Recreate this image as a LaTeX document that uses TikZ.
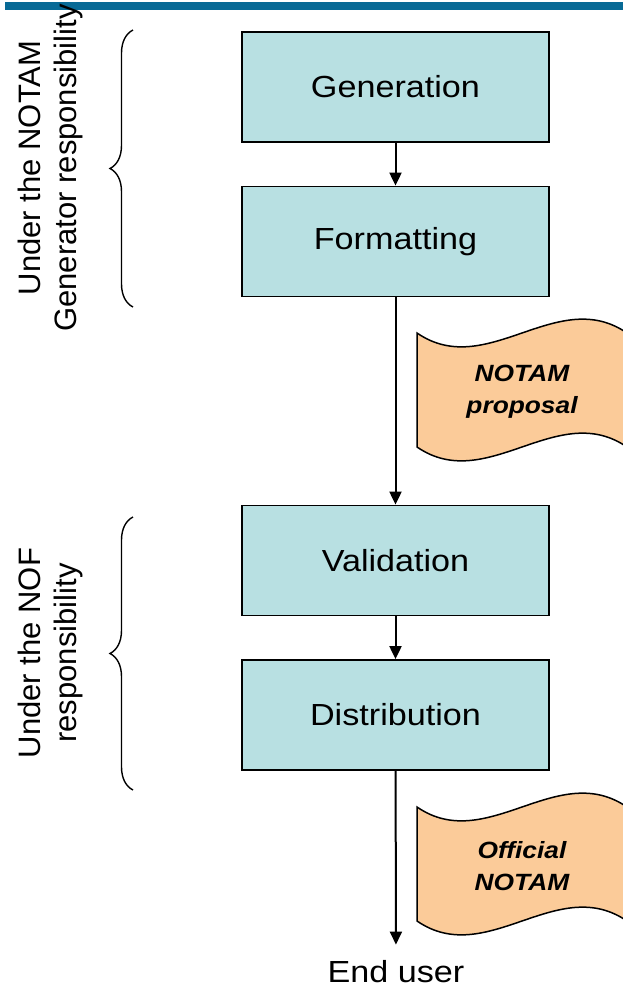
\documentclass[tikz,border=0pt]{standalone}
\usepackage{fontspec}
\setmainfont[FakeStretch=1.12]{Liberation Sans}
\newfontfamily\sidefont{Liberation Sans}
\usetikzlibrary{positioning}
\usetikzlibrary{arrows.meta}
\usetikzlibrary{decorations.pathreplacing}
\definecolor{boxcyan}{RGB}{184,224,226}
\definecolor{docpeach}{RGB}{251,203,153}
\definecolor{barblue}{RGB}{8,106,150}

\begin{document}
\begin{tikzpicture}[x=1pt,y=-1pt,
  stepbox/.style={draw,line width=1.8pt,fill=boxcyan,minimum width=307pt,
    minimum height=110pt,inner sep=0pt,font=\fontsize{30.5}{36}\selectfont},
  flow/.style={line width=2pt,-{Triangle[width=12pt,length=13pt]}},
  wavedoc/.style={draw,line width=1.5pt,fill=docpeach},
  doctext/.style={align=center,font=\fontsize{23.5}{32}\selectfont\bfseries\itshape},
  sidetext/.style={rotate=90,align=center,font=\sidefont\fontsize{31}{36}\selectfont},
  resp/.style={line width=1.4pt,decorate,decoration={brace,amplitude=23pt}}]
          \useasboundingbox (0,0) rectangle (623,989);
          \fill[barblue] (5,2) rectangle (623,10);

          \node[stepbox] (gen) at (395.5,87) {Generation};
          \node[stepbox] (fmt) at (395.5,241.5) {Formatting};
          \node[stepbox] (val) at (395.5,560.5) {Validation};
          \node[stepbox] (dist) at (395.5,715) {Distribution};
          \node[font=\fontsize{30.5}{36}\selectfont,inner ysep=16pt] (user) at (396,972) {End user};

          \draw[flow] (gen) -- (fmt);
          \draw[flow] (fmt) -- (val);
          \draw[flow] (val) -- (dist);
          \draw[flow] (dist) -- (user);

          % documents
          \path[wavedoc] (417,333) .. controls (487,381) and (557,285) .. (627,333)
            -- (627,447) .. controls (557,399) and (487,495) .. (417,447) -- cycle;
          \node[doctext] (prop) at (522,392) {NOTAM\\proposal};
          \path[wavedoc] (417,807) .. controls (487,855) and (557,759) .. (627,807)
            -- (627,921) .. controls (557,873) and (487,969) .. (417,921) -- cycle;
          \node[doctext] (offi) at (522,866) {Official\\NOTAM};

          % responsibilities
          \node[sidetext] (gresp) at (50,168) {Under the NOTAM\\Generator responsibility};
          \node[sidetext] (nresp) at (50,653) {Under the NOF\\responsibility};
          \draw[resp] (133,307) -- (133,30);
          \draw[resp] (133,790) -- (133,517);
        \end{tikzpicture}
\end{document}
